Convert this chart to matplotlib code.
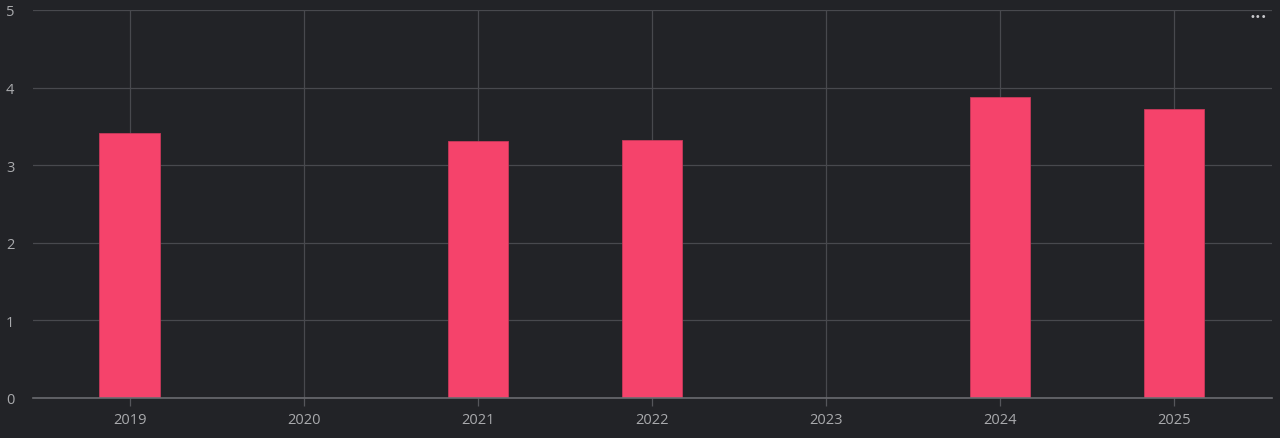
import numpy as np
import matplotlib.pyplot as plt

years = ['2019', '2020', '2021', '2022', '2023', '2024', '2025']
values = [3.42, 0, 3.31, 3.32, 0, 3.88, 3.72]
yticks = [0, 1, 2, 3, 4, 5]

bg = '#222327'
bar_color = '#f5436b'
grid_color = '#48494e'
text_color = '#a9aaad'

plt.rcParams['font.family'] = ['Open Sans', 'DejaVu Sans']

fig = plt.figure(figsize=(12.8, 4.39), dpi=100, facecolor=bg)
ax = fig.add_axes([33 / 1280, 40 / 439, 1239 / 1280, 388 / 439], facecolor=bg)

x = np.arange(len(years))
ax.bar(x, values, width=0.35, color=bar_color, edgecolor='#c9385a', linewidth=0.6, zorder=3)

ax.set_xlim(-0.557, 6.563)
ax.set_ylim(0, 5)
ax.set_xticks(x)
ax.set_xticklabels(years)
ax.set_yticks(yticks)

# grid behind the bars
ax.grid(True, color=grid_color, linewidth=0.9, zorder=0)
for s in ['top', 'right', 'left']:
    ax.spines[s].set_visible(False)
ax.spines['bottom'].set_color('#6a6b70')
ax.spines['bottom'].set_linewidth(1.2)
ax.spines['bottom'].set_zorder(4)

ax.tick_params(axis='x', colors=text_color, labelsize=10.5, length=6, width=0.9, pad=4)
ax.tick_params(axis='x', color='#55565b')
ax.tick_params(axis='y', colors=text_color, labelsize=10.5, length=0, pad=13.5)

fig.text(1258 / 1280, 1 - 17 / 439, '•••', color='#c8c8cc', fontsize=7,
         ha='center', va='center', family='DejaVu Sans')

fig.savefig('out.png', dpi=100, facecolor=bg)
